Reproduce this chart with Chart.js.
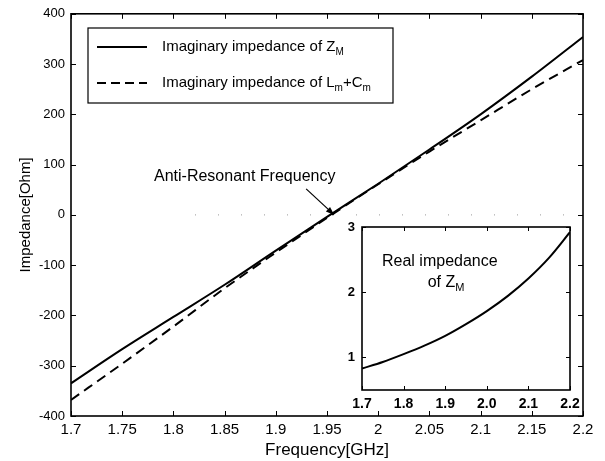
<!DOCTYPE html>
<html>
<head>
<meta charset="utf-8">
<script src="https://cdn.jsdelivr.net/npm/chart.js@4.4.1/dist/chart.umd.min.js"></script>
<style>
  body { margin: 0; background: #fff; }
  #wrap { position: relative; width: 605px; height: 461px; }
  canvas { position: absolute; left: 0; top: 0; }
  #inset { pointer-events: none; }
</style>
</head>
<body>
<div id="wrap">
  <canvas id="main" width="605" height="461"></canvas>
  <canvas id="inset" width="605" height="461"></canvas>
</div>
<script>
// frequency samples (GHz)
const freq = [1.7, 1.75, 1.8, 1.85, 1.9, 1.95, 2.0, 2.05, 2.1, 2.15, 2.2];
// imaginary impedance of Z_M (Ohm)
const imagZM = [-335, -267, -203, -139, -71, -4, 62, 130, 200, 275, 354];
// imaginary impedance of Lm+Cm (Ohm)
const imagLC = [-368, -296, -222, -146, -75, -6, 61, 126, 188, 250, 308];
// real impedance of Z_M (inset)
const realZM = [0.83, 0.93, 1.05, 1.18, 1.33, 1.51, 1.71, 1.94, 2.21, 2.53, 2.92];

const xTicks = [1.7, 1.75, 1.8, 1.85, 1.9, 1.95, 2.0, 2.05, 2.1, 2.15, 2.2];
const xTickLabels = ['1.7', '1.75', '1.8', '1.85', '1.9', '1.95', '2', '2.05', '2.1', '2.15', '2.2'];
const yTicks = [-400, -300, -200, -100, 0, 100, 200, 300, 400];
const insetXTicks = [1.7, 1.8, 1.9, 2.0, 2.1, 2.2];
const insetXLabels = ['1.7', '1.8', '1.9', '2.0', '2.1', '2.2'];
const insetYTicks = [1, 2, 3];

const antiResonant = 1.957;

const FONT = '"Liberation Sans", Arial, Helvetica, sans-serif';

// text with subscripts: [text, isSub]
function richText(ctx, parts, x, y, size) {
  parts.forEach(([s, sub]) => {
    ctx.font = (sub ? Math.round(size * 0.68) : size) + 'px ' + FONT;
    ctx.fillText(s, x, y + (sub ? size * 0.32 : 0));
    x += ctx.measureText(s).width;
  });
}
function richWidth(ctx, parts, size) {
  let w = 0;
  parts.forEach(([s, sub]) => {
    ctx.font = (sub ? Math.round(size * 0.68) : size) + 'px ' + FONT;
    w += ctx.measureText(s).width;
  });
  return w;
}

// box + inward ticks, matlab style
const boxTicks = {
  id: 'boxTicks',
  afterDraw(chart, args, opts) {
    const { ctx, chartArea: a, scales: { x, y } } = chart;
    const L = opts.len;
    ctx.save();
    ctx.strokeStyle = '#000';
    ctx.lineWidth = 1;
    ctx.beginPath();
    x.ticks.forEach(t => {
      const px = Math.round(x.getPixelForValue(t.value)) + 0.5;
      ctx.moveTo(px, a.bottom); ctx.lineTo(px, a.bottom - L);
      ctx.moveTo(px, a.top); ctx.lineTo(px, a.top + L);
    });
    y.ticks.forEach(t => {
      const py = Math.round(y.getPixelForValue(t.value)) + 0.5;
      ctx.moveTo(a.left, py); ctx.lineTo(a.left + L, py);
      ctx.moveTo(a.right, py); ctx.lineTo(a.right - L, py);
    });
    ctx.stroke();
    ctx.lineWidth = opts.width;
    ctx.strokeRect(a.left, a.top, a.width, a.height);
    ctx.restore();
  }
};

const mainExtras = {
  id: 'mainExtras',
  beforeDatasetsDraw(chart) {
    const { ctx, chartArea: a, scales: { y } } = chart;
    const y0 = y.getPixelForValue(0);
    ctx.save();
    ctx.strokeStyle = '#999';
    ctx.lineWidth = 1;
    ctx.setLineDash([1, 22]);
    ctx.beginPath();
    ctx.moveTo(a.left + 124, y0); ctx.lineTo(a.right, y0);
    ctx.stroke();
    ctx.restore();
  },
  afterDraw(chart) {
    const { ctx, scales: { x, y } } = chart;
    ctx.save();
    // legend
    const lx = 88, ly = 28, lw = 305, lh = 75;
    ctx.fillStyle = '#fff';
    ctx.fillRect(lx, ly, lw, lh);
    ctx.strokeStyle = '#000';
    ctx.lineWidth = 1.2;
    ctx.strokeRect(lx, ly, lw, lh);
    const rows = [
      { parts: [['Imaginary impedance of Z', false], ['M', true]], dash: [] },
      { parts: [['Imaginary impedance of L', false], ['m', true], ['+C', false], ['m', true]], dash: [9, 5] }
    ];
    rows.forEach((r, i) => {
      const yy = ly + 19 + i * 36;
      ctx.lineWidth = 2;
      ctx.setLineDash(r.dash);
      ctx.beginPath();
      ctx.moveTo(lx + 9, yy); ctx.lineTo(lx + 59, yy);
      ctx.stroke();
      ctx.setLineDash([]);
      ctx.fillStyle = '#000';
      ctx.textBaseline = 'middle';
      richText(ctx, r.parts, lx + 74, yy, 15);
    });
    // annotation
    const tx = x.getPixelForValue(antiResonant);
    const ty = y.getPixelForValue(0);
    ctx.font = '16px ' + FONT;
    ctx.textBaseline = 'middle';
    ctx.textAlign = 'left';
    ctx.fillText('Anti-Resonant Frequency', 154, 177);
    const sx = tx - 28, sy = ty - 26;
    ctx.lineWidth = 1.2;
    ctx.beginPath();
    ctx.moveTo(sx, sy); ctx.lineTo(tx - 1, ty - 1);
    ctx.stroke();
    const ang = Math.atan2(ty - sy, tx - sx);
    ctx.beginPath();
    ctx.moveTo(tx, ty);
    ctx.lineTo(tx - 9 * Math.cos(ang - 0.35), ty - 9 * Math.sin(ang - 0.35));
    ctx.lineTo(tx - 9 * Math.cos(ang + 0.35), ty - 9 * Math.sin(ang + 0.35));
    ctx.closePath();
    ctx.fill();
    ctx.restore();
  }
};

const insetExtras = {
  id: 'insetExtras',
  beforeDatasetsDraw(chart) {
    const { ctx, chartArea: a } = chart;
    ctx.save();
    ctx.fillStyle = '#fff';
    ctx.fillRect(a.left, a.top, a.width, a.height);
    ctx.restore();
  },
  afterDraw(chart) {
    const { ctx, chartArea: a } = chart;
    ctx.save();
    ctx.fillStyle = '#000';
    ctx.textBaseline = 'middle';
    ctx.font = '16px ' + FONT;
    ctx.textAlign = 'left';
    ctx.fillText('Real impedance', a.left + 20, a.top + 35);
    const parts = [['of Z', false], ['M', true]];
    const w = richWidth(ctx, parts, 16);
    richText(ctx, parts, a.left + 84 - w / 2, a.top + 56, 16);
    ctx.restore();
  }
};

const noGrid = { display: false, drawTicks: false };

new Chart(document.getElementById('main'), {
  type: 'line',
  data: {
    datasets: [
      {
        label: 'Imaginary impedance of Z_M',
        data: freq.map((f, i) => ({ x: f, y: imagZM[i] })),
        borderColor: '#000', borderWidth: 2, pointRadius: 0, cubicInterpolationMode: 'monotone', fill: false
      },
      {
        label: 'Imaginary impedance of Lm+Cm',
        data: freq.map((f, i) => ({ x: f, y: imagLC[i] })),
        borderColor: '#000', borderWidth: 2, borderDash: [10, 6], pointRadius: 0, cubicInterpolationMode: 'monotone', fill: false
      }
    ]
  },
  options: {
    responsive: false,
    animation: false,
    layout: { padding: { left: 0, right: 22, top: 12, bottom: 0 } },
    plugins: { legend: { display: false }, tooltip: { enabled: false }, boxTicks: { len: 5, width: 1.6 } },
    scales: {
      x: {
        type: 'linear', min: 1.7, max: 2.2,
        afterBuildTicks: s => { s.ticks = xTicks.map(v => ({ value: v })); },
        afterFit: s => { s.height = 45; },
        grid: noGrid, border: { display: false },
        ticks: { color: '#000', font: { family: FONT, size: 15 }, padding: 5, maxRotation: 0, autoSkip: false,
                 callback: (v, i) => xTickLabels[i] },
        title: { display: true, text: 'Frequency[GHz]', color: '#000', font: { family: FONT, size: 17 }, padding: { top: 0, bottom: 0 } }
      },
      y: {
        type: 'linear', min: -400, max: 400,
        afterBuildTicks: s => { s.ticks = yTicks.map(v => ({ value: v })); },
        afterFit: s => { s.width = 71; },
        grid: noGrid, border: { display: false },
        ticks: { color: '#000', font: { family: FONT, size: 13 }, padding: 6, callback: v => String(v) },
        title: { display: true, text: 'Impedance[Ohm]', color: '#000', font: { family: FONT, size: 15 }, padding: { top: 17, bottom: 0 } }
      }
    }
  },
  plugins: [mainExtras, boxTicks]
});

new Chart(document.getElementById('inset'), {
  type: 'line',
  data: {
    datasets: [{
      label: 'Real impedance of Z_M',
      data: freq.map((f, i) => ({ x: f, y: realZM[i] })),
      borderColor: '#000', borderWidth: 2, pointRadius: 0, cubicInterpolationMode: 'monotone', fill: false
    }]
  },
  options: {
    responsive: false,
    animation: false,
    layout: { padding: { left: 342, right: 35, top: 227, bottom: 49 } },
    plugins: { legend: { display: false }, tooltip: { enabled: false }, boxTicks: { len: 4, width: 1.6 } },
    scales: {
      x: {
        type: 'linear', min: 1.7, max: 2.2,
        afterBuildTicks: s => { s.ticks = insetXTicks.map(v => ({ value: v })); },
        afterFit: s => { s.height = 22; },
        grid: noGrid, border: { display: false },
        ticks: { color: '#000', font: { family: FONT, size: 14, weight: 'bold' }, padding: 6, maxRotation: 0, autoSkip: false,
                 callback: (v, i) => insetXLabels[i] }
      },
      y: {
        type: 'linear', min: 0.5, max: 3,
        afterBuildTicks: s => { s.ticks = insetYTicks.map(v => ({ value: v })); },
        afterFit: s => { s.width = 20; },
        grid: noGrid, border: { display: false },
        ticks: { color: '#000', font: { family: FONT, size: 13, weight: 'bold' }, padding: 7, callback: v => String(v) }
      }
    }
  },
  plugins: [insetExtras, boxTicks]
});
</script>
</body>
</html>
